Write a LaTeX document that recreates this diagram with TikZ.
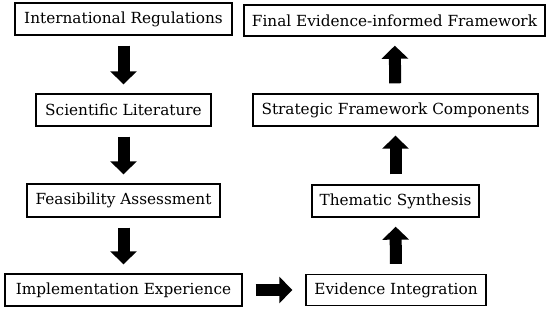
\documentclass[tikz,border=0pt]{standalone}
\usepackage{fontspec}
\setmainfont{DejaVu Serif}
\usetikzlibrary{arrows.meta}
\tikzset{every picture/.style={/utils/exec={\fontsize{15.3}{18}\selectfont}}}
\tikzset{stagebox/.style={draw,line width=1.4pt,inner sep=0pt,minimum height=32pt}}
\tikzset{blockarrow/.style={-{Triangle[width=26pt,length=13pt]},line width=12pt,shorten <=10pt,shorten >=9pt}}

\begin{document}
\begin{tikzpicture}[x=1pt,y=-1pt]
    \useasboundingbox (0,0) rectangle (550,311);
    % left column, going down
    \node [stagebox,minimum width=217pt] (intl) at (123.5,19) {International Regulations};
    \node [stagebox,minimum width=175pt] (lit) at (123.5,110) {Scientific Literature};
    \node [stagebox,minimum width=193pt,minimum height=33pt] (feas) at (123.5,200.5) {Feasibility Assessment};
    \node [stagebox,minimum width=237pt] (impl) at (123.5,290) {Implementation Experience};
    % right column, going up
    \node [stagebox,minimum width=180pt,minimum height=31pt] (integ) at (396,290) {Evidence Integration};
    \node [stagebox,minimum width=167pt] (synth) at (395.5,201) {Thematic Synthesis};
    \node [stagebox,minimum width=285pt] (comp) at (395.5,110) {Strategic Framework Components};
    \node [stagebox,minimum width=301pt,minimum height=31pt] (final) at (394.5,20.5) {Final Evidence-informed Framework};
    \draw [blockarrow] (intl) -- (lit);
    \draw [blockarrow] (lit) -- (feas);
    \draw [blockarrow] (feas) -- (impl);
    \draw [blockarrow,shorten <=13pt,shorten >=13pt] (impl) -- (integ);
    \draw [blockarrow] (integ) -- (synth);
    \draw [blockarrow] (synth) -- (comp);
    \draw [blockarrow] (comp) -- (final);
\end{tikzpicture}
\end{document}
